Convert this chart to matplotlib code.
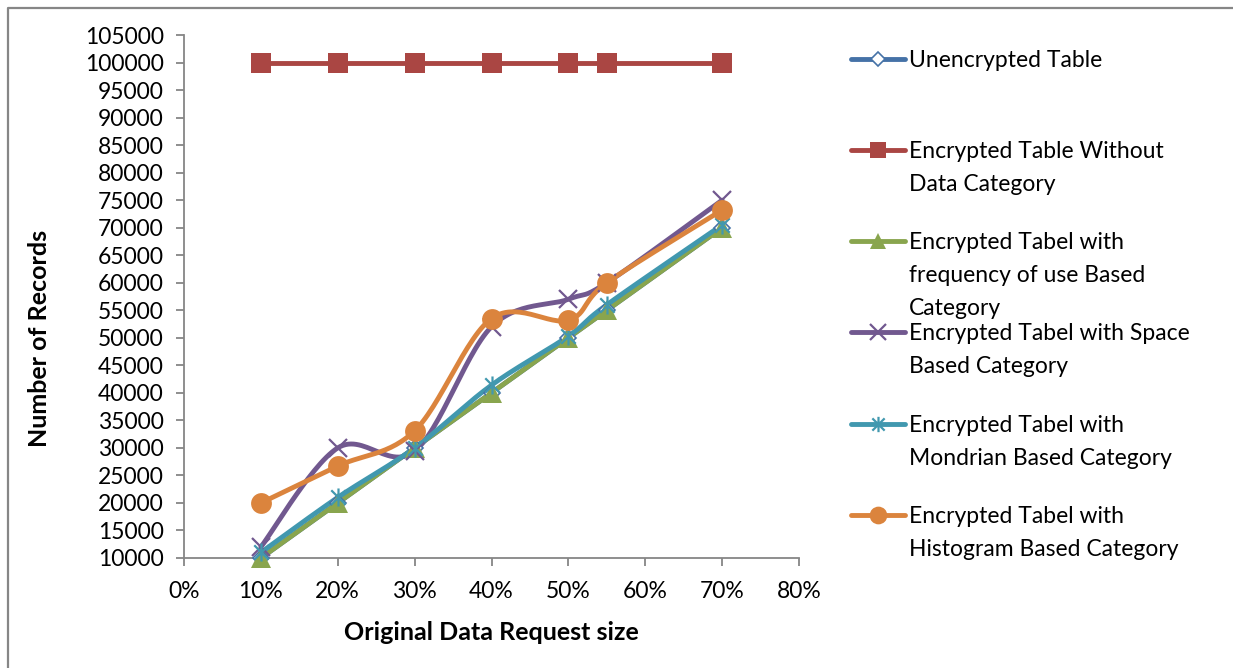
import numpy as np
import matplotlib
matplotlib.use("Agg")
import matplotlib.pyplot as plt
from matplotlib.path import Path
from matplotlib.lines import Line2D

plt.rcParams['font.family'] = ['Lato', 'DejaVu Sans']

# ---- data -------------------------------------------------------------
request_size = [0.10, 0.20, 0.30, 0.40, 0.50, 0.55, 0.70]

unencrypted = [10000, 20000, 30000, 40000, 50000, 55000, 70000]
no_category = [100000, 100000, 100000, 100000, 100000, 100000, 100000]
frequency_based = [10000, 20000, 30000, 40000, 50000, 55000, 70000]
space_based = [12000, 30000, 29400, 52000, 57000, 60000, 75000]
mondrian_based = [11000, 21000, 30000, 41400, 50300, 56000, 70500]
histogram_based = [20000, 26700, 33100, 53500, 53200, 60000, 73200]

series_labels = [
    ["Unencrypted Table"],
    ["Encrypted Table Without", "Data Category"],
    ["Encrypted Tabel with", "frequency of use Based", "Category"],
    ["Encrypted Tabel with Space", "Based Category"],
    ["Encrypted Tabel with", "Mondrian Based Category"],
    ["Encrypted Tabel with", "Histogram Based Category"],
]

y_ticks = list(range(10000, 105001, 5000))
x_ticks = [0.0, 0.1, 0.2, 0.3, 0.4, 0.5, 0.6, 0.7, 0.8]
x_tick_labels = ["0%", "10%", "20%", "30%", "40%", "50%", "60%", "70%", "80%"]

# ---- helpers ----------------------------------------------------------
def smooth(xs, ys, n=30):
    """Cardinal (Catmull-Rom style) Bezier smoothing through the points."""
    p = np.column_stack([xs, ys]).astype(float)
    pts = np.vstack([p[0], p, p[-1]])
    out = []
    t = np.linspace(0, 1, n)[:, None]
    for i in range(1, len(pts) - 2):
        p0, p1, p2, p3 = pts[i - 1], pts[i], pts[i + 1], pts[i + 2]
        c1 = p1 + (p2 - p0) / 6.0
        c2 = p2 - (p3 - p1) / 6.0
        seg = ((1 - t) ** 3) * p1 + 3 * ((1 - t) ** 2) * t * c1 \
            + 3 * (1 - t) * t ** 2 * c2 + t ** 3 * p2
        out.append(seg if i == 1 else seg[1:])
    out = np.vstack(out)
    return out[:, 0], out[:, 1]

# asterisk marker: an "x" crossed by a vertical bar
ast_verts = [(-1, -1), (1, 1), (-1, 1), (1, -1), (0, -1.25), (0, 1.25)]
ast_codes = [Path.MOVETO, Path.LINETO] * 3
asterisk = Path(ast_verts, ast_codes)

styles = [
    dict(color="#4572A7", marker="D", ms=8, mfc="white", mec="#4572A7", mew=1.2),
    dict(color="#AA4643", marker="s", ms=14, mfc="#AA4643", mec="#AA4643", mew=0),
    dict(color="#89A54E", marker="^", ms=14, mfc="#89A54E", mec="#89A54E", mew=0),
    dict(color="#71588F", marker="x", ms=13, mfc="#71588F", mec="#71588F", mew=1.6),
    dict(color="#4198AF", marker=asterisk, ms=13, mfc="#4198AF", mec="#4198AF", mew=1.6),
    dict(color="#DB843D", marker="o", ms=15, mfc="#DB843D", mec="#DB843D", mew=0),
]
all_series = [unencrypted, no_category, frequency_based, space_based,
              mondrian_based, histogram_based]

# ---- figure -----------------------------------------------------------
W, H = 1233, 668
fig = plt.figure(figsize=(W / 100, H / 100), dpi=100)
fig.patch.set_facecolor("white")

def fx(px):
    return px / W

def fy(py):
    return 1 - py / H

ax = fig.add_axes([fx(184), fy(558), fx(799) - fx(184), fy(35) - fy(558)])

lw = 3.5
for ys, st in zip(all_series, styles):
    sx, sy = smooth(request_size, ys)
    ax.plot(sx, sy, color=st["color"], lw=lw, solid_capstyle="round", zorder=2)
    ax.plot(request_size, ys, linestyle="none", marker=st["marker"], ms=st["ms"],
            mfc=st["mfc"], mec=st["mec"], mew=st["mew"], zorder=3, clip_on=False)

ax.set_xlim(0, 0.8)
ax.set_ylim(10000, 105000)
ax.set_xticks(x_ticks)
ax.set_xticklabels(x_tick_labels)
ax.set_yticks(y_ticks)
ax.set_yticklabels([str(v) for v in y_ticks])

axis_gray = "#868686"
for side in ("top", "right"):
    ax.spines[side].set_visible(False)
for side in ("left", "bottom"):
    ax.spines[side].set_color(axis_gray)
    ax.spines[side].set_linewidth(1.3)
ax.tick_params(axis="both", direction="out", length=5.5, width=1.3,
               color=axis_gray, labelsize=16.5, labelcolor="black")
ax.tick_params(axis="y", pad=9)
ax.tick_params(axis="x", pad=11)

fig.text(fx(40), fy(338), "Number of Records", rotation=90, ha="center",
         va="center", fontsize=18, fontweight="bold")
fig.text(fx(491), fy(633), "Original Data Request size", ha="center",
         va="center", fontsize=18, fontweight="bold")

# ---- legend drawn at the right of the plot ------------------------------
handle_y = [59, 150, 241, 332, 424, 515]
for hy, st, lines in zip(handle_y, styles, series_labels):
    fig.add_artist(Line2D([fx(851), fx(905)], [fy(hy), fy(hy)],
                          color=st["color"], lw=lw, solid_capstyle="round",
                          transform=fig.transFigure))
    fig.add_artist(Line2D([fx(878)], [fy(hy)], linestyle="none",
                          marker=st["marker"], ms=st["ms"] * 0.85,
                          mfc=st["mfc"], mec=st["mec"], mew=st["mew"],
                          transform=fig.transFigure))
    for k, line in enumerate(lines):
        fig.text(fx(909), fy(hy + 8 + 33 * k), line, ha="left",
                 va="baseline", fontsize=16.5)

# chart frame
fig.add_artist(Line2D([fx(8), fx(8), fx(W)], [fy(H), fy(8), fy(8)],
                      color=axis_gray, lw=1.6, transform=fig.transFigure))

fig.savefig("out.png", dpi=100)
